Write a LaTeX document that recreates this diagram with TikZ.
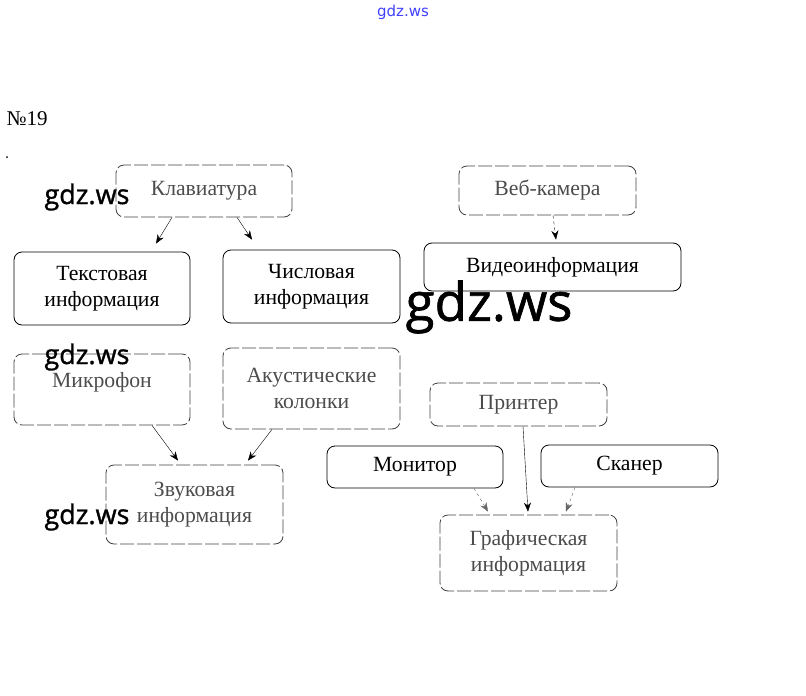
\documentclass[tikz,border=0pt]{standalone}
\usepackage{fontspec}
\setmainfont{Liberation Serif}
\newfontfamily\wmfont[FakeBold=1.2]{Open Sans}
\newfontfamily\topfont{DejaVu Sans}
\usetikzlibrary{arrows.meta}

\tikzset{
  box/.style={draw, rounded corners=8pt, thick, align=center, inner sep=0pt,
    font=\fontsize{21.7}{26}\selectfont},
  faded/.style={box, draw=black!75, dash pattern=on 14pt off 3pt, text=black!70},
  arr/.style={-{Stealth[length=9pt,width=7pt]}, thin},
  wm/.style={font=\wmfont\fontsize{27}{27}\selectfont},
}

\def\link#1#2#3#4#5#6{%
  \draw[arr,#6] ([xshift=#2]#1.south) -- ([xshift=#4,yshift=#5]#3.north);
}

\begin{document}
\begin{tikzpicture}[x=1pt,y=-1pt]
\useasboundingbox (0,0) rectangle (806,696);
\draw (403,12) node[text=blue!75, font=\topfont\fontsize{15}{15}\selectfont] (site) {gdz.ws};
\draw (3,119) node[anchor=west, font=\fontsize{21}{21}\selectfont] (num19) {№19};
\fill (7,157) circle (1pt);

% upper row
\draw (204,191) node[faded, minimum width=176pt, minimum height=52pt] (kbd) {Клавиатура};
\draw (102,288.5) node[box, minimum width=176pt, minimum height=73pt] (txt) {Текстовая\\информация};
\draw (311.5,286.5) node[box, minimum width=177pt, minimum height=73pt] (numb) {Числовая\\информация};
\draw (547.5,190.5) node[faded, minimum width=177pt, minimum height=49pt] (cam) {Веб-камера};
\draw (552.5,267) node[box, minimum width=257pt, minimum height=48pt] (vid) {Видеоинформация};

% lower row
\draw (102,389.5) node[faded, minimum width=176pt, minimum height=71pt, text depth=20pt] (mic) {Микрофон};
\draw (311.5,388.5) node[faded, minimum width=177pt, minimum height=81pt] (spk) {Акустические\\колонки};
\draw (194.5,504.5) node[faded, minimum width=177pt, minimum height=79pt] (snd) {Звуковая\\информация};
\draw (518.5,404.5) node[faded, minimum width=177pt, minimum height=43pt] (prn) {Принтер};
\draw (415,467) node[box, minimum width=176pt, minimum height=42pt] (mon) {Монитор};
\draw (629.5,466) node[box, minimum width=177pt, minimum height=42pt] (scn) {Сканер};
\draw (528.5,553) node[faded, minimum width=177pt, minimum height=76pt] (gfx) {Графическая\\информация};

\link{kbd}{-32pt}{txt}{54pt}{8pt}{}
\link{kbd}{33pt}{numb}{-59.5pt}{10pt}{}
\link{cam}{5.5pt}{vid}{3.5pt}{3pt}{dashed}
\link{mic}{50pt}{snd}{-16.5pt}{4pt}{}
\link{spk}{-39.5pt}{snd}{53.5pt}{4pt}{}
\link{prn}{4.5pt}{gfx}{-0.5pt}{3pt}{}
\link{mon}{59pt}{gfx}{-40.5pt}{3pt}{dashed, black!60}
\link{scn}{-54.5pt}{gfx}{37.5pt}{3pt}{dashed, black!60}

% watermarks
\draw (87,197) node[wm] (wm1) {gdz.ws};
\draw (489,307) node[wm, font=\wmfont\fontsize{53}{53}\selectfont] (wm2) {gdz.ws};
\draw (87,357) node[wm] (wm3) {gdz.ws};
\draw (87,517) node[wm] (wm4) {gdz.ws};
\end{tikzpicture}
\end{document}
